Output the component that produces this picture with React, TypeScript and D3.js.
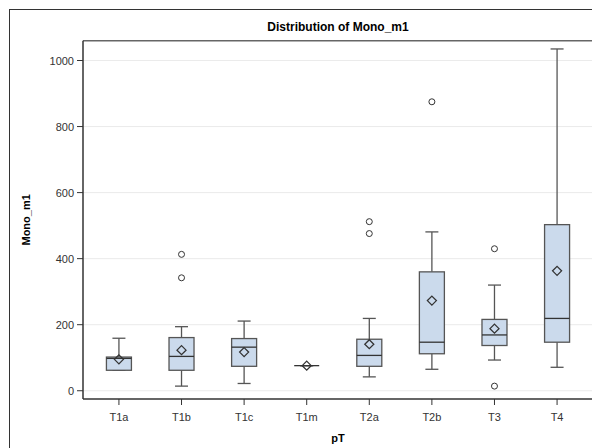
import React from "react";
import * as d3 from "d3";

const categories = ["T1a", "T1b", "T1c", "T1m", "T2a", "T2b", "T3", "T4"];
const whiskerLow = [62, 14, 22, 76, 42, 65, 93, 71];
const q1 = [62, 62, 74, 76, 74, 112, 137, 147];
const median = [98, 104, 132, 76, 107, 147, 169, 219];
const q3 = [102, 161, 158, 76, 156, 360, 216, 503];
const whiskerHigh = [159, 194, 211, 76, 219, 481, 320, 1035];
const means = [95, 123, 117, 76, 141, 273, 188, 363];
const outliers: number[][] = [[], [342, 413], [], [], [476, 512], [875], [14, 430], []];
const yTicks = [0, 200, 400, 600, 800, 1000];

const W = 592;
const H = 448;
const left = 83;
const right = 593;
const top = 40.7;
const bottom = 399;

const FONT = "'Liberation Sans', Arial, sans-serif";
const STROKE = "#555555";
const FILL = "#CBDAEC";

export default function App() {
  const x = d3.scalePoint<string>().domain(categories).range([left, right]).padding(0.574);
  const y = d3.scaleLinear().domain([-25, 1060]).range([bottom, top]);
  const boxW = 25;
  const capW = 13;

  return (
    <svg width={W} height={H} style={{ position: "absolute", left: 0, top: 0, background: "#fff" }} fontFamily={FONT}>
      {/* outer graph frame */}
      <rect x={9.5} y={9.5} width={620} height={460} fill="none" stroke="#333" strokeWidth={1} />
      <text x={(left + right) / 2} y={31} textAnchor="middle" fontSize={12} fontWeight="bold" fill="#000">
        Distribution of Mono_m1
      </text>

      {/* gridlines */}
      {yTicks.map((t) => (
        <line key={"g" + t} x1={left} x2={right} y1={y(t)} y2={y(t)} stroke="#ebebeb" strokeWidth={1} />
      ))}

      {/* plot border */}
      <line x1={left} x2={right} y1={top} y2={top} stroke="#666" strokeWidth={1.5} />
      <line x1={left} x2={left} y1={top} y2={bottom} stroke="#333" strokeWidth={1.5} />
      <line x1={left} x2={right} y1={bottom} y2={bottom} stroke="#333" strokeWidth={1.5} />

      {/* y axis */}
      {yTicks.map((t) => (
        <g key={"y" + t}>
          <line x1={left - 6} x2={left} y1={y(t)} y2={y(t)} stroke="#333" />
          <text x={left - 9} y={y(t) + 4} textAnchor="end" fontSize={11} fill="#333">
            {t}
          </text>
        </g>
      ))}
      <text
        transform={`translate(30,${(top + bottom) / 2}) rotate(-90)`}
        textAnchor="middle"
        fontSize={11}
        fontWeight="bold"
        fill="#000"
      >
        Mono_m1
      </text>

      {/* x axis */}
      {categories.map((c) => (
        <g key={"x" + c}>
          <line x1={x(c)} x2={x(c)} y1={bottom} y2={bottom + 6} stroke="#333" />
          <text x={x(c)} y={420.5} textAnchor="middle" fontSize={11} fill="#333">
            {c}
          </text>
        </g>
      ))}
      <text x={(left + right) / 2} y={442} textAnchor="middle" fontSize={11} fontWeight="bold" fill="#000">
        pT
      </text>

      {/* boxes */}
      {categories.map((c, i) => {
        const cx = x(c) as number;
        const d = 4.5;
        const my = y(means[i]);
        return (
          <g key={"b" + c} stroke={STROKE} strokeWidth={1.3}>
            <line x1={cx} x2={cx} y1={y(whiskerHigh[i])} y2={y(q3[i])} />
            <line x1={cx} x2={cx} y1={y(q1[i])} y2={y(whiskerLow[i])} />
            <line x1={cx - capW / 2} x2={cx + capW / 2} y1={y(whiskerHigh[i])} y2={y(whiskerHigh[i])} />
            <line x1={cx - capW / 2} x2={cx + capW / 2} y1={y(whiskerLow[i])} y2={y(whiskerLow[i])} />
            <rect
              x={cx - boxW / 2}
              y={y(q3[i])}
              width={boxW}
              height={Math.max(0, y(q1[i]) - y(q3[i]))}
              fill={FILL}
            />
            <line x1={cx - boxW / 2} x2={cx + boxW / 2} y1={y(median[i])} y2={y(median[i])} stroke="#333" />
            <path
              d={`M${cx},${my - d}L${cx + d},${my}L${cx},${my + d}L${cx - d},${my}Z`}
              fill="none"
              stroke="#333"
            />
            {outliers[i].map((v, k) => (
              <circle key={k} cx={cx} cy={y(v)} r={3} fill="none" stroke="#333" strokeWidth={1} />
            ))}
          </g>
        );
      })}
    </svg>
  );
}
